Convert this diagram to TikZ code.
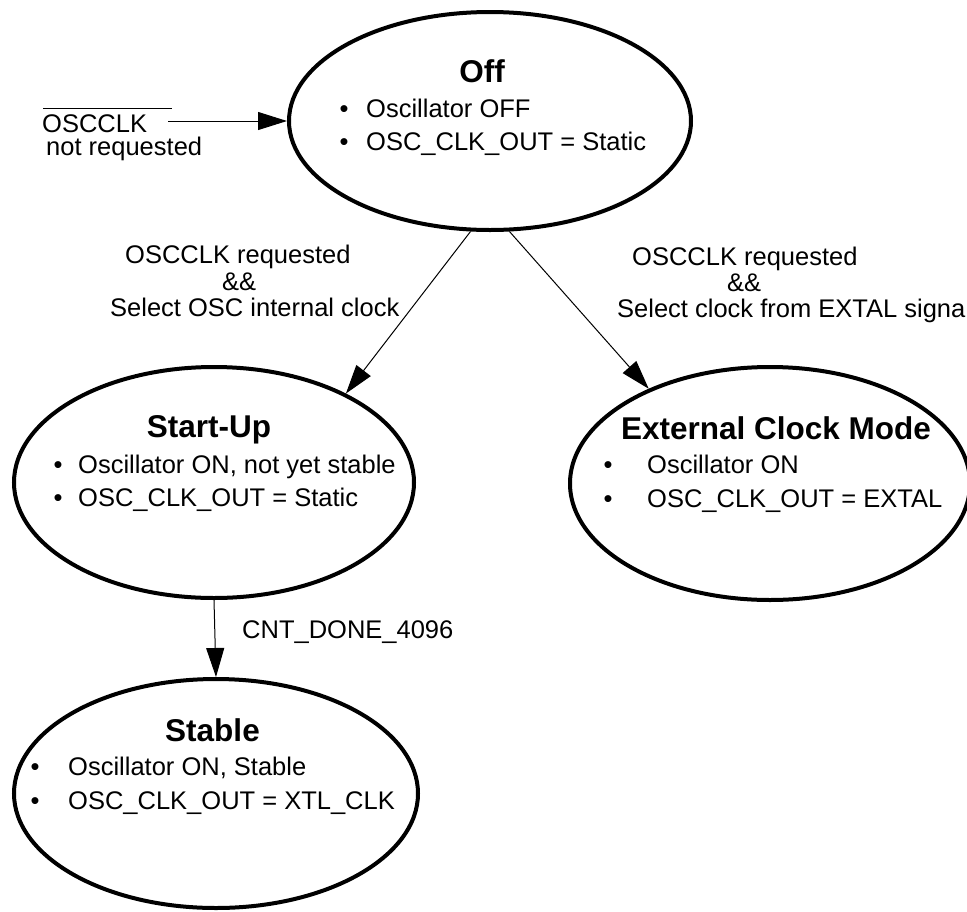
\documentclass[tikz,border=0pt]{standalone}
\usepackage{fontspec}
\setmainfont{Liberation Sans}
\usetikzlibrary{arrows.meta,shapes.geometric}
\begin{document}
\begin{tikzpicture}[x=1pt,y=-1pt,
  state/.style={draw, ellipse, line width=4pt, inner sep=0pt},
  body/.style={font=\fontsize{25.5}{30}\selectfont, inner sep=0pt, anchor=base west},
  bul/.style={font=\fontsize{25.5}{30}\selectfont, inner sep=0pt, anchor=base},
  ttl/.style={font=\bfseries\fontsize{31.5}{36}\selectfont, inner sep=0pt, anchor=base},
  conn/.style={line width=1pt, -{Triangle[length=29pt,width=18pt]}}]
\useasboundingbox (0,0) rectangle (967,911);
\clip (0,0) rectangle (967,911);

% states
\node[state, minimum width=402pt, minimum height=218pt] (off) at (490,121) {};
\node[state, minimum width=400pt, minimum height=231pt] (startup) at (214,482.5) {};
\node[state, minimum width=400pt, minimum height=233pt] (ext) at (770,483.5) {};
\node[state, minimum width=404pt, minimum height=229pt] (stable) at (216,793.5) {};

% Off text
\node[ttl] (offt) at (482,82) {Off};
\node[bul] (offb1) at (344,117) {•};
\node[bul] (offb2) at (344,150) {•};
\node[body] (offl1) at (366,117) {Oscillator OFF};
\node[body] (offl2) at (366,150) {OSC\_CLK\_OUT = Static};

% Start-Up text
\node[ttl] (sut) at (209,437) {Start-Up};
\node[bul] (sub1) at (58,473) {•};
\node[bul] (sub2) at (58,506) {•};
\node[body] (sul1) at (78,473) {Oscillator ON, not yet stable};
\node[body] (sul2) at (78,506) {OSC\_CLK\_OUT = Static};

% External Clock Mode text
\node[ttl] (ext-t) at (776,439) {External Clock Mode};
\node[bul] (exb1) at (608,473) {•};
\node[bul] (exb2) at (608,507) {•};
\node[body] (exl1) at (647,473) {Oscillator ON};
\node[body] (exl2) at (647,507) {OSC\_CLK\_OUT = EXTAL};

% Stable text
\node[ttl] (stt) at (212.5,741) {Stable};
\node[bul] (stb1) at (35,775) {•};
\node[bul] (stb2) at (35,809) {•};
\node[body] (stl1) at (68,775) {Oscillator ON, Stable};
\node[body] (stl2) at (68,809) {OSC\_CLK\_OUT = XTL\_CLK};

% incoming transition
\node[body] (nreq1) at (42,132) {OSCCLK};
\node[body] (nreq2) at (46,155) {not requested};
\draw[line width=1pt] (43,108) -- (172,108);
\coordinate (in) at (168,121);
\draw[conn] (in) -- (off.west);

% transition labels
\node[body] (la1) at (125,263) {OSCCLK requested};
\node[body] (la2) at (222,290) {\&\&};
\node[body] (la3) at (110,316) {Select OSC internal clock};
\node[body] (lb1) at (632,265) {OSCCLK requested};
\node[body] (lb2) at (727,291) {\&\&};
\node[body] (lb3) at (617,317) {Select clock from EXTAL signa};
\node[body] (lc) at (242,638) {CNT\_DONE\_4096};

% transitions
\draw[conn] (off.260) -- (startup.34);
\draw[conn] (off.280) -- (ext.142);
\draw[conn] (startup.south) -- (stable.north);
\end{tikzpicture}
\end{document}
